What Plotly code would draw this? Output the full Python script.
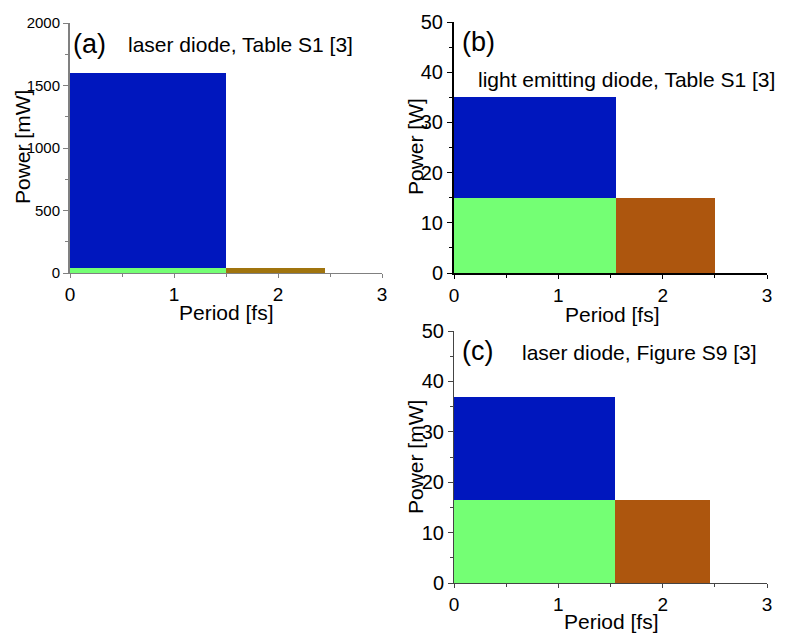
import plotly.graph_objects as go

# ---------------- data ----------------
segments = ["green", "blue", "brown"]

# panel (a) laser diode, Table S1 [3]  (Power in mW)
a_start = [0.0, 0.0, 1.5]
a_end = [1.5, 1.5, 2.45]
a_bottom = [0, 40, 0]
a_top = [40, 1600, 40]

# panel (b) light emitting diode, Table S1 [3]  (Power in W)
b_start = [0.0, 0.0, 1.55]
b_end = [1.55, 1.55, 2.5]
b_bottom = [0, 15, 0]
b_top = [15, 35, 15]

# panel (c) laser diode, Figure S9 [3]  (Power in mW)
c_start = [0.0, 0.0, 1.54]
c_end = [1.54, 1.54, 2.45]
c_bottom = [0, 16.5, 0]
c_top = [16.5, 37, 16.5]

x_ticks = [0, 1, 2, 3]
a_y_ticks = [0, 500, 1000, 1500, 2000]
bc_y_ticks = [0, 10, 20, 30, 40, 50]

# ---------------- style ----------------
FONT = "Liberation Sans, Arial, sans-serif"
colors_a = ["#74FF74", "#0017BE", "#A0740E"]
colors_bc = ["#74FF74", "#0017BE", "#AD560E"]

W, H = 786, 633


def px_x(p):
    return p / W


def px_y(p):
    return 1 - p / H


fig = go.Figure()


def add_bars(starts, ends, bottoms, tops, colors, xa, ya):
    for s, e, b, t, col in zip(starts, ends, bottoms, tops, colors):
        fig.add_trace(go.Bar(
            x=[(s + e) / 2], y=[t - b], base=[b], width=[e - s],
            marker=dict(color=col, line=dict(width=0)),
            xaxis=xa, yaxis=ya, showlegend=False, hoverinfo="skip"))


add_bars(a_start, a_end, a_bottom, a_top, colors_a, "x", "y")
add_bars(b_start, b_end, b_bottom, b_top, colors_bc, "x2", "y2")
add_bars(c_start, c_end, c_bottom, c_top, colors_bc, "x3", "y3")


def xaxis(domain, anchor, linecolor, linewidth, fs):
    return dict(domain=domain, anchor=anchor, range=[0, 3], tickvals=x_ticks,
                ticks="outside", ticklen=4, tickwidth=1, tickcolor=linecolor,
                showline=True, linecolor=linecolor, linewidth=linewidth,
                showgrid=False, zeroline=False, automargin=False,
                tickfont=dict(family=FONT, size=fs, color="black"),
                minor=dict(dtick=0.5, ticks="outside", ticklen=3, tickcolor=linecolor))


def yaxis(domain, anchor, rng, tv, mdt, linecolor, linewidth, fs):
    return dict(domain=domain, anchor=anchor, range=rng, tickvals=tv,
                ticks="outside", ticklen=5, tickwidth=1, tickcolor=linecolor,
                showline=True, linecolor=linecolor, linewidth=linewidth,
                showgrid=False, zeroline=False, automargin=False,
                tickfont=dict(family=FONT, size=fs, color="black"),
                minor=dict(dtick=mdt, ticks="outside", ticklen=3, tickcolor=linecolor))


fig.update_layout(
    template="none",
    width=W, height=H, margin=dict(l=0, r=0, t=0, b=0, pad=0),
    plot_bgcolor="white", paper_bgcolor="white", barmode="overlay", bargap=0,
    showlegend=False,
    xaxis=xaxis([px_x(70), px_x(382)], "y", "#808080", 1, 19),
    yaxis=yaxis([px_y(273), px_y(23)], "x", [0, 2000], a_y_ticks, 250, "#808080", 2, 15),
    xaxis2=xaxis([px_x(454), px_x(767)], "y2", "black", 2, 19),
    yaxis2=yaxis([px_y(273), px_y(22)], "x2", [0, 50], bc_y_ticks, 5, "black", 2, 20),
    xaxis3=xaxis([px_x(454), px_x(767)], "y3", "#444444", 1, 19),
    yaxis3=yaxis([px_y(583), px_y(331)], "x3", [0, 50], bc_y_ticks, 5, "#444444", 1, 20),
)


def note(text, x, y, size, xanchor="left", angle=0):
    fig.add_annotation(text=text, x=px_x(x), y=px_y(y), xref="paper", yref="paper",
                       xanchor=xanchor, yanchor="middle", showarrow=False,
                       textangle=angle, font=dict(family=FONT, size=size, color="black"))


# panel labels and descriptions
note("(a)", 71, 44, 27)
note("laser diode, Table S1 [3]", 126, 44, 21)
note("(b)", 460, 42, 27)
note("light emitting diode, Table S1 [3]", 476, 79, 21)
note("(c)", 460, 351, 27)
note("laser diode, Figure S9 [3]", 520, 353, 21)

# axis titles
note("Power [mW]", 22, 147, 21, "center", -90)
note("Period [fs]", 226, 312, 21, "center")
note("Power [W]", 415, 147, 21, "center", -90)
note("Period [fs]", 612, 314, 21, "center")
note("Power [mW]", 415, 457, 21, "center", -90)
note("Period [fs]", 611, 621, 21, "center")

fig.write_html(
    "out.html",
    config={"displayModeBar": False},
    post_script="document.body.style.margin='0';document.body.style.overflow='hidden';",
)
